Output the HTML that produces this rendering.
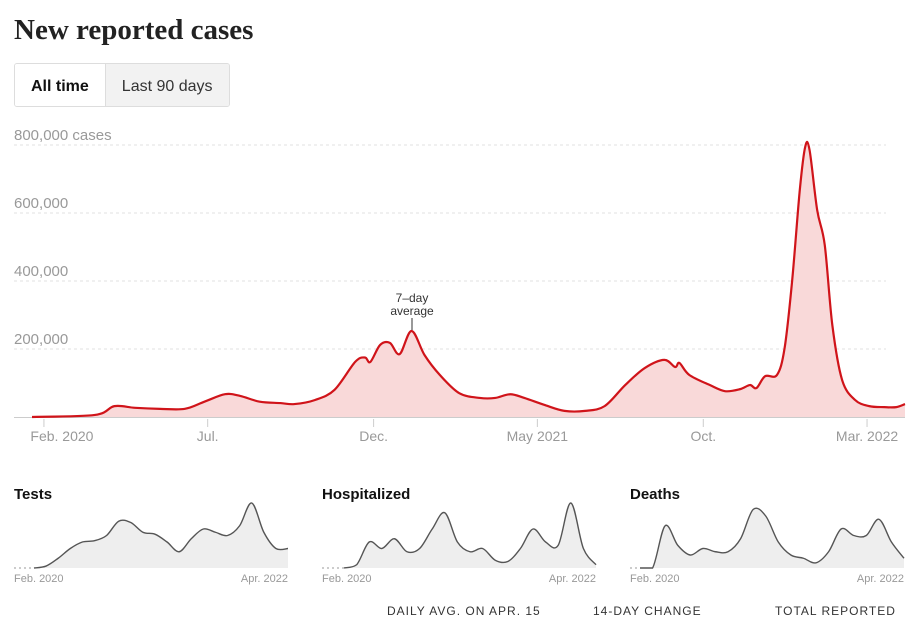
<!DOCTYPE html>
<html><head><meta charset="utf-8"><style>
body{margin:0;width:921px;height:612px;overflow:hidden;background:#fff;font-family:"Liberation Sans",sans-serif;position:relative}
h1{position:absolute;left:14px;top:14px;margin:0;font-family:"Liberation Serif",serif;font-weight:bold;font-size:29px;color:#222}
.btns{position:absolute;left:14px;top:63px;display:flex;border:1px solid #ddd;border-radius:3px;height:42px;overflow:hidden}
.btn{padding:0 16px;line-height:46px;font-size:16px;color:#333}
.b1{font-weight:bold;background:#fff;color:#111}
.b2{background:#f2f2f2;border-left:1px solid #ddd}
.foot{position:absolute;top:604px;font-size:12px;color:#333;letter-spacing:1px}
</style></head><body>
<h1>New reported cases</h1>
<div class="btns">
<div class="btn b1">All time</div>
<div class="btn b2">Last 90 days</div>
</div>
<svg id="main" width="921" height="612" style="position:absolute;left:0;top:0"></svg>
<div class="foot" style="left:387px">DAILY AVG. ON APR. 15</div>
<div class="foot" style="left:593px">14-DAY CHANGE</div>
<div class="foot" style="left:775px">TOTAL REPORTED</div>
<script>
const days=[0,58,76,95,118,141,159,178,192,210,229,242,261,279,298,307,312,321,330,339,350,362,376,394,413,427,441,454,473,491,510,528,547,565,583,593,597,606,625,639,653,662,668,676,687,694,701,708,713,717,724,731,738,747,759,772,786,797,805];
const cases=[0,6000,32000,27000,24000,24000,45000,67000,62000,45000,41000,38000,50000,80000,162000,175000,162000,212000,218000,185000,253000,182000,124000,70000,56000,56000,67000,56000,35000,18000,18000,32000,94000,144000,168000,147000,159000,124000,94000,76000,82000,94000,85000,120000,124000,203000,403000,668000,795000,785000,609000,506000,270000,109000,50000,32000,29000,29000,38000];
const yTicks=[200000,400000,600000,800000];
const xTickDays=[11,162,315,466,619,770];
const xTickLabels=["Feb. 2020","Jul.","Dec.","May 2021","Oct.","Mar. 2022"];
const testsVals=[0,0.03,0.15,0.3,0.4,0.42,0.5,0.72,0.7,0.55,0.52,0.4,0.25,0.45,0.6,0.55,0.5,0.65,1.0,0.55,0.3,0.3];
const hospVals=[0,0.05,0.4,0.3,0.45,0.25,0.3,0.6,0.85,0.4,0.25,0.3,0.12,0.1,0.3,0.6,0.4,0.35,1,0.3,0.05];
const deathVals=[0,0,0.65,0.35,0.2,0.3,0.25,0.25,0.45,0.9,0.8,0.4,0.2,0.15,0.08,0.25,0.6,0.5,0.5,0.75,0.4,0.15];
const NS="http://www.w3.org/2000/svg",svg=document.getElementById('main');
const x=d=>32+d*(873/805), y=v=>417-v/200000*68;
function mk(t,a,p){const e=document.createElementNS(NS,t);for(const k in a)e.setAttribute(k,a[k]);(p||svg).appendChild(e);return e;}
function smooth(p,maxY){const c=v=>Math.min(v,maxY);let s='M'+p[0][0]+','+p[0][1];for(let i=0;i<p.length-1;i++){const a=p[i-1]||p[i],b=p[i],cc=p[i+1],d=p[i+2]||cc;
s+='C'+(b[0]+(cc[0]-a[0])/6)+','+c(b[1]+(cc[1]-a[1])/6)+' '+(cc[0]-(d[0]-b[0])/6)+','+c(cc[1]-(d[1]-b[1])/6)+' '+cc[0]+','+cc[1];}return s;}
yTicks.forEach((t,i)=>{const l=mk('line',{x1:14,x2:886,y1:y(t),y2:y(t),stroke:'#e2e2e2','stroke-dasharray':'3,3'});


const tx=mk('text',{x:14,y:y(t)-5,fill:'#999','font-size':15});tx.textContent=t.toLocaleString('en-US')+(i==yTicks.length-1?' cases':'');

});
const pts=days.map((d,i)=>[x(d),y(cases[i])]);
const sp=smooth(pts,417);
const area=mk('path',{d:sp+'L'+x(days[days.length-1])+','+y(0)+'L'+x(days[0])+','+y(0)+'Z',fill:'#f9d9d9'});


const base=mk('line',{x1:14,x2:905,y1:417.5,y2:417.5,stroke:'#ccc'});


const line=mk('path',{d:sp,fill:'none',stroke:'#d0141a','stroke-width':2.2,'stroke-linejoin':'round'});


xTickDays.forEach((d,i)=>{const t=mk('line',{x1:x(d),x2:x(d),y1:419,y2:427,stroke:'#ccc'});


const tx=mk('text',{x:i==0?x(d)+18:x(d),y:441,fill:'#999','font-size':14,'text-anchor':'middle'});tx.textContent=xTickLabels[i];

});
const an=mk('g',{});
[['7–day',302],['average',315]].forEach(a=>{const t=mk('text',{x:412,y:a[1],'font-size':12,fill:'#333','text-anchor':'middle'},an);t.textContent=a[0];});
mk('line',{x1:412,x2:412,y1:318,y2:330,stroke:'#333'},an);
function small(vals,x0,title,start){const g=mk('g',{});


const t=mk('text',{x:x0,y:499,'font-size':15,'font-weight':'bold',fill:'#111'},g);t.textContent=title;
const w=274,b=568,h=65,sx=i=>x0+start+i*(w-start)/(vals.length-1);
const p=vals.map((v,i)=>[sx(i),b-v*h]);const s=smooth(p,b);
mk('path',{d:s+'L'+sx(vals.length-1)+','+b+'L'+sx(0)+','+b+'Z',fill:'#eee'},g);
mk('line',{x1:x0,x2:x0+start,y1:b,y2:b,stroke:'#999','stroke-dasharray':'2,3'},g);
mk('path',{d:s,fill:'none',stroke:'#555','stroke-width':1.4},g);
const l1=mk('text',{x:x0,y:582,'font-size':11,fill:'#999'},g);l1.textContent='Feb. 2020';
const l2=mk('text',{x:x0+w,y:582,'font-size':11,fill:'#999','text-anchor':'end'},g);l2.textContent='Apr. 2022';}
small(testsVals,14,'Tests',20);small(hospVals,322,'Hospitalized',22);small(deathVals,630,'Deaths',10);
</script>
</body></html>
